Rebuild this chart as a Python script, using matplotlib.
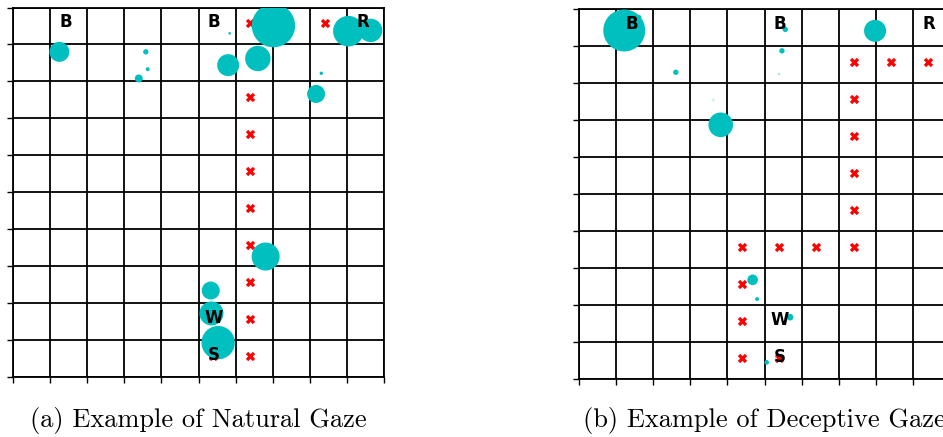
import numpy as np
import matplotlib.pyplot as plt

# gaze fixations: x, y in grid units, marker area
nat_x = [1.25, 3.58, 3.63, 3.39, 5.84, 7.02, 5.80, 6.60, 9.04, 9.64, 8.31, 8.17, 6.81, 5.33, 5.35, 5.53]
nat_y = [8.80, 8.80, 8.33, 8.08, 9.30, 9.51, 8.44, 8.62, 9.36, 9.38, 8.22, 7.66, 3.26, 2.34, 1.72, 0.93]
nat_s = [207, 15, 8, 33, 3.5, 976, 251, 334, 485, 284, 6, 168, 406, 168, 299, 578]
nat_a = [1] * 16

dec_x = [1.22, 1.63, 5.56, 5.47, 5.39, 2.61, 7.98, 3.82, 2.02, 3.62, 4.68, 4.80, 5.69, 5.06]
dec_y = [9.42, 9.78, 9.45, 8.87, 8.24, 8.29, 9.41, 6.87, 7.71, 7.54, 2.68, 2.16, 1.67, 0.45]
dec_s = [914, 8, 15, 15, 3.5, 15, 251, 314, 2, 4.7, 58, 8, 22.6, 11]
dec_a = [1, 1, 1, 1, 0.35, 1, 1, 1, 0.15, 0.2, 1, 1, 1, 1]

# planned path cells (column, row from bottom)
nat_path = [(5, 0)] + [(6, r) for r in range(10)] + [(7, 9), (8, 9)]
dec_path = [(5, 0), (4, 0), (4, 1), (4, 2), (4, 3), (5, 3), (6, 3),
            (7, 3), (7, 4), (7, 5), (7, 6), (7, 7), (7, 8), (8, 8), (9, 8)]

# labelled cells
nat_labels = [('B', 1, 9), ('B', 5, 9), ('R', 9, 9), ('W', 5, 1), ('S', 5, 0)]
dec_labels = [('B', 1, 9), ('B', 5, 9), ('R', 9, 9), ('W', 5, 1), ('S', 5, 0)]

captions = ['(a) Example of Natural Gaze', '(b) Example of Deceptive Gaze']

fig = plt.figure(figsize=(9.43, 4.37), dpi=100)
ax1 = fig.add_axes([13 / 943, 1 - 377 / 437, 371 / 943, 369.5 / 437])
ax2 = fig.add_axes([579 / 943, 1 - 379 / 437, 371 / 943, 370 / 437])


def draw(ax, gx, gy, gs, ga, path, labels):
    ax.set_xlim(0, 10)
    ax.set_ylim(0, 10)
    ax.set_xticks(range(11))
    ax.set_yticks(range(11))
    ax.set_xticklabels([])
    ax.set_yticklabels([])
    ax.tick_params(length=4, width=1, color='k')
    ax.grid(True, color='k', lw=1.3)
    for sp in ax.spines.values():
        sp.set_linewidth(1.3)
    px = [c + 0.4 for c, r in path]
    py = [r + 0.58 for c, r in path]
    ax.scatter(px, py, marker='X', s=45, color='red', linewidths=0, zorder=3)
    cols = [(0, 0.75, 0.75, a) for a in ga]
    ax.scatter(gx, gy, s=gs, c=cols, linewidths=0, zorder=4)
    for t, c, r in labels:
        ax.text(c + 0.42, r + 0.6, t, ha='center', va='center', fontsize=12,
                fontweight='bold', zorder=5)
    ax.set_axisbelow(True)


draw(ax1, nat_x, nat_y, nat_s, nat_a, nat_path, nat_labels)
draw(ax2, dec_x, dec_y, dec_s, dec_a, dec_path, dec_labels)

for ax, cap in zip([ax1, ax2], captions):
    pos = ax.get_position()
    fig.text(pos.x0 + pos.width / 2, 1 - 420 / 437, cap, ha='center', va='center',
             fontsize=19, family='cmr10')

fig.savefig('out.png', dpi=100)
